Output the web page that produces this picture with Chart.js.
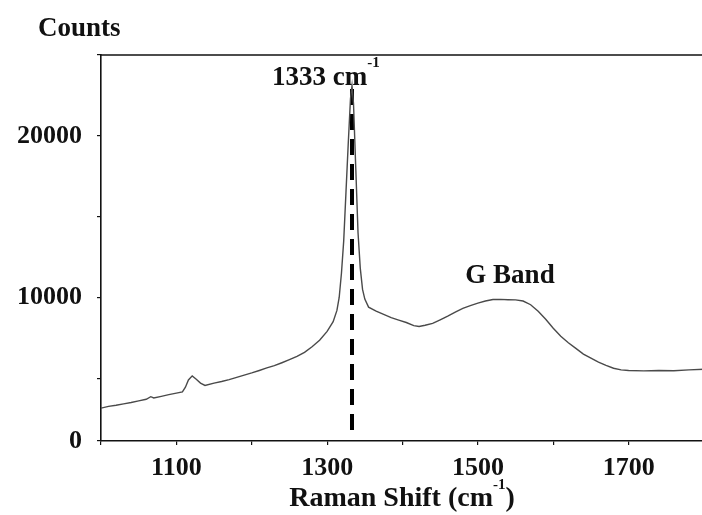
<!DOCTYPE html>
<html>
<head>
<meta charset="utf-8">
<script src="https://cdn.jsdelivr.net/npm/chart.js@4.4.1/dist/chart.umd.min.js"></script>
<style>
  html, body { margin: 0; padding: 0; background: #fff; overflow: hidden; }
  #wrap { width: 712px; height: 515px; }
</style>
</head>
<body>
<div id="wrap"><canvas id="c" width="712" height="515"></canvas></div>
<script>
// Raman spectrum: shift (cm^-1) and detector counts
const shiftCm = [
  1000, 1010, 1020, 1030, 1040, 1050, 1060, 1066, 1070, 1080, 1090, 1100, 1108,
  1112, 1116, 1121, 1126, 1132, 1138, 1150, 1160, 1170, 1180, 1190, 1200, 1210,
  1220, 1230, 1240, 1250, 1260, 1270, 1280, 1290, 1300, 1308, 1313, 1316, 1319,
  1322, 1325, 1328, 1331, 1333, 1335, 1338, 1341, 1344, 1347, 1350, 1355, 1365,
  1375, 1385, 1395, 1405, 1415, 1422, 1430, 1440, 1450, 1460, 1470, 1480, 1490,
  1500, 1510, 1520, 1530, 1540, 1550, 1560, 1570, 1580, 1590, 1600, 1610, 1620,
  1630, 1640, 1650, 1660, 1670, 1680, 1690, 1700, 1720, 1740, 1760, 1780, 1800
];
const counts = [
  3150, 3260, 3330, 3420, 3500, 3600, 3700, 3860, 3780, 3880, 3990, 4080, 4160,
  4450, 4900, 5150, 4950, 4700, 4560, 4700, 4800, 4920, 5060, 5200, 5330, 5480,
  5640, 5780, 5960, 6150, 6350, 6600, 6950, 7350, 7900, 8500, 9200, 10000, 11500,
  13500, 16500, 19500, 22300, 23100, 22000, 18000, 14000, 11800, 10500, 9900, 9400, 9150,
  8950, 8750, 8600, 8450, 8260, 8200, 8280, 8400, 8620, 8850, 9100, 9320, 9500,
  9650, 9780, 9870, 9880, 9860, 9850, 9780, 9550, 9150, 8650, 8100, 7600, 7200,
  6850, 6500, 6250, 6000, 5800, 5620, 5520, 5480, 5460, 5480, 5470, 5520, 5560
];

// Diamond line marker
const peakShift = 1333;
const peakMarkerCounts = [22900, 1350];

// Axis ticks
const xTickValues = [1000, 1100, 1200, 1300, 1400, 1500, 1600, 1700, 1800];
const xTickLabels = ['1100', '1300', '1500', '1700'];
const yBase = 1120;
const yTickValues = [yBase, 5000, 10000, 15000, 20000, 25000];
const yTickLabels = { [yBase]: '0', 10000: '10000', 20000: '20000' };

const SERIF = '"Liberation Serif", "Times New Roman", serif';

function drawPieces(ctx, pieces, x, align) {
  // pieces: [{text, size, dy}]
  let total = 0;
  pieces.forEach(p => { ctx.font = 'bold ' + p.size + 'px ' + SERIF; p.w = ctx.measureText(p.text).width; total += p.w; });
  let cx = align === 'center' ? x - total / 2 : x;
  pieces.forEach(p => {
    ctx.font = 'bold ' + p.size + 'px ' + SERIF;
    ctx.fillText(p.text, cx, p.y);
    cx += p.w;
  });
}

const decorations = {
  id: 'decorations',
  afterDraw(chart) {
    const ctx = chart.ctx;
    const a = chart.chartArea;
    ctx.save();
    // top frame line
    ctx.strokeStyle = '#111';
    ctx.lineWidth = 1.6;
    ctx.beginPath();
    ctx.moveTo(a.left, a.top);
    ctx.lineTo(a.right, a.top);
    ctx.stroke();

    ctx.fillStyle = '#111';
    ctx.textBaseline = 'alphabetic';
    ctx.textAlign = 'left';
    // y axis title
    ctx.font = 'bold 27px ' + SERIF;
    ctx.fillText('Counts', 38, 36);

    // peak label
    const xs = chart.scales.x;
    drawPieces(ctx, [
      { text: '1333 cm', size: 27, y: 85 },
      { text: '-1', size: 15, y: 67 }
    ], 272, 'left');

    // G band label
    ctx.textAlign = 'left';
    drawPieces(ctx, [{ text: 'G Band', size: 27, y: 283 }], 510, 'center');

    // x axis title
    drawPieces(ctx, [
      { text: 'Raman Shift (cm', size: 28, y: 506 },
      { text: '-1', size: 15, y: 489 },
      { text: ')', size: 28, y: 506 }
    ], 402, 'center');
    ctx.restore();
  }
};

new Chart(document.getElementById('c'), {
  type: 'line',
  data: {
    datasets: [
      {
        data: shiftCm.map((x, i) => ({ x, y: counts[i] })),
        borderColor: '#4a4a4a',
        borderWidth: 1.4,
        pointRadius: 0,
        tension: 0,
        fill: false
      },
      {
        data: peakMarkerCounts.map(y => ({ x: peakShift, y })),
        borderColor: '#000',
        borderWidth: 4,
        borderDash: [16, 9],
        pointRadius: 0,
        fill: false
      }
    ]
  },
  options: {
    responsive: false,
    animation: false,
    layout: { padding: { top: 55, right: 5, bottom: 0, left: 0 } },
    plugins: { legend: { display: false }, tooltip: { enabled: false } },
    scales: {
      x: {
        type: 'linear',
        min: 1000,
        max: 1800,
        afterBuildTicks: s => { s.ticks = xTickValues.map(v => ({ value: v })); },
        afterFit: s => { s.height = 74; },
        ticks: {
          autoSkip: false,
          maxRotation: 0,
          padding: 8,
          color: '#111',
          font: { family: SERIF, size: 26, weight: 'bold' },
          callback: v => (xTickLabels.includes(String(v)) ? String(v) : '')
        },
        grid: { drawOnChartArea: false, drawTicks: true, tickLength: 4, color: '#111', lineWidth: 1.2 },
        border: { display: true, color: '#111', width: 1.6 }
      },
      y: {
        type: 'linear',
        min: yBase,
        max: 25000,
        afterBuildTicks: s => { s.ticks = yTickValues.map(v => ({ value: v })); },
        afterFit: s => { s.width = 101; },
        ticks: {
          autoSkip: false,
          padding: 15,
          color: '#111',
          font: { family: SERIF, size: 26, weight: 'bold' },
          callback: v => (yTickLabels[v] !== undefined ? yTickLabels[v] : '')
        },
        grid: { drawOnChartArea: false, drawTicks: true, tickLength: 4, color: '#111', lineWidth: 1.2 },
        border: { display: true, color: '#111', width: 1.6 }
      }
    }
  },
  plugins: [decorations]
});
</script>
</body>
</html>
